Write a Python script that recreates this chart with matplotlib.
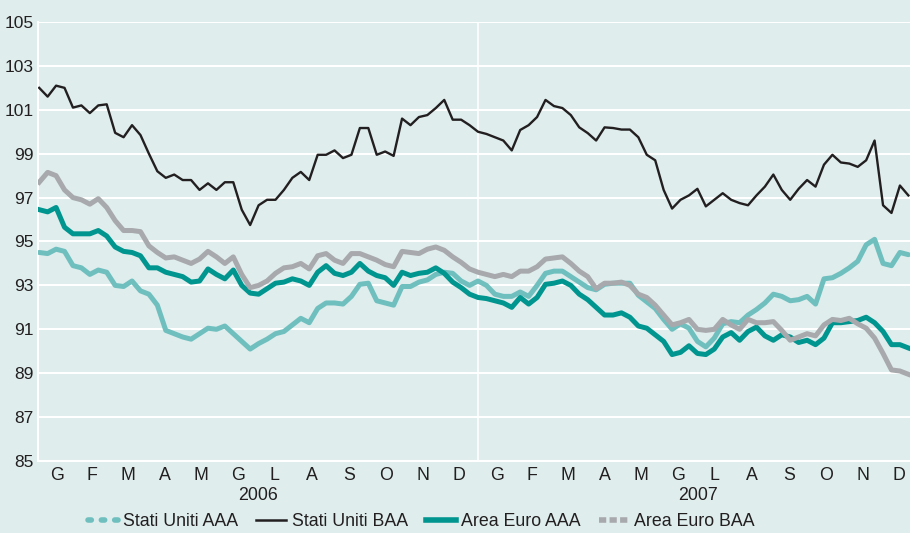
import matplotlib
matplotlib.use('Agg')
import matplotlib.pyplot as plt
import matplotlib.dates as mdates
from matplotlib.lines import Line2D
import pandas as pd
import numpy as np

# ---------------- data (weekly readings) ----------------
start_date = '2006-01-02'
n_weeks = 104

us_aaa = [94.5, 94.45, 94.65, 94.55, 93.9, 93.8, 93.5, 93.7, 93.6, 93.0,
          92.95, 93.2, 92.75, 92.6, 92.1, 90.95, 90.8, 90.65, 90.55, 90.8,
          91.05, 91.0, 91.15, 90.8, 90.45, 90.1, 90.35, 90.55, 90.8, 90.9,
          91.2, 91.5, 91.3, 91.95, 92.2, 92.2, 92.15, 92.5, 93.05, 93.1,
          92.3, 92.2, 92.1, 92.95, 92.95, 93.15, 93.25, 93.5, 93.6, 93.55,
          93.2, 93.0, 93.2, 93.0, 92.6, 92.5, 92.5, 92.7, 92.5, 93.0,
          93.55, 93.65, 93.65, 93.4, 93.15, 92.9, 92.8, 93.05, 93.1, 93.1,
          93.1, 92.55, 92.25, 91.95, 91.45, 91.0, 91.25, 91.05, 90.45, 90.2,
          90.6, 91.25, 91.35, 91.3, 91.65, 91.9, 92.2, 92.6, 92.5, 92.3,
          92.35, 92.5, 92.15, 93.3, 93.35, 93.55, 93.8, 94.1, 94.85, 95.1,
          94.0, 93.9, 94.5, 94.4]

us_baa = [102.0, 101.6, 102.1, 102.0, 101.1, 101.2, 100.85, 101.2, 101.25, 99.95,
          99.75, 100.3, 99.85, 99.0, 98.2, 97.9, 98.05, 97.8, 97.8, 97.35,
          97.65, 97.35, 97.7, 97.7, 96.45, 95.75, 96.65, 96.9, 96.9, 97.35,
          97.9, 98.17, 97.8, 98.95, 98.95, 99.15, 98.8, 98.95, 100.17, 100.17,
          98.95, 99.1, 98.9, 100.6, 100.3, 100.67, 100.76, 101.08, 101.45, 100.55,
          100.55, 100.3, 100.0, 99.9, 99.75, 99.6, 99.15, 100.08, 100.3, 100.67,
          101.45, 101.17, 101.08, 100.76, 100.2, 99.94, 99.6, 100.2, 100.17, 100.1,
          100.1, 99.75, 98.95, 98.7, 97.35, 96.5, 96.9, 97.1, 97.4, 96.6,
          96.9, 97.2, 96.9, 96.75, 96.65, 97.1, 97.5, 98.05, 97.35, 96.9,
          97.4, 97.8, 97.5, 98.5, 98.95, 98.6, 98.55, 98.4, 98.7, 99.6,
          96.65, 96.3, 97.55, 97.1]

eu_aaa = [96.45, 96.35, 96.55, 95.65, 95.35, 95.35, 95.35, 95.5, 95.25, 94.75,
          94.55, 94.5, 94.35, 93.8, 93.8, 93.6, 93.5, 93.4, 93.15, 93.2,
          93.75, 93.5, 93.3, 93.7, 93.0, 92.65, 92.6, 92.85, 93.1, 93.15,
          93.3, 93.2, 93.0, 93.6, 93.9, 93.55, 93.45, 93.6, 94.0, 93.65,
          93.45, 93.35, 93.0, 93.6, 93.45, 93.55, 93.6, 93.8, 93.55, 93.15,
          92.9, 92.6, 92.45, 92.4, 92.3, 92.2, 92.0, 92.45, 92.15, 92.45,
          93.05, 93.1, 93.2, 93.0, 92.6, 92.35, 92.0, 91.65, 91.65, 91.75,
          91.55, 91.15, 91.05, 90.75, 90.45, 89.85, 89.95, 90.25, 89.9, 89.85,
          90.1, 90.65, 90.85, 90.5, 90.9, 91.1, 90.7, 90.5, 90.75, 90.65,
          90.4, 90.5, 90.3, 90.6, 91.3, 91.3, 91.35, 91.4, 91.55, 91.3,
          90.9, 90.3, 90.3, 90.15]

eu_baa = [97.7, 98.15, 98.0, 97.35, 97.0, 96.9, 96.7, 96.95, 96.55, 95.95,
          95.5, 95.5, 95.45, 94.8, 94.5, 94.25, 94.3, 94.15, 94.0, 94.2,
          94.55, 94.3, 94.0, 94.3, 93.5, 92.9, 93.0, 93.2, 93.55, 93.8,
          93.85, 94.0, 93.75, 94.35, 94.45, 94.15, 94.0, 94.45, 94.45, 94.3,
          94.15, 93.95, 93.85, 94.55, 94.5, 94.45, 94.65, 94.75, 94.6, 94.3,
          94.05, 93.75, 93.6, 93.5, 93.4, 93.5, 93.4, 93.65, 93.65, 93.85,
          94.2, 94.25, 94.3, 94.0, 93.65, 93.4, 92.85, 93.1, 93.1, 93.15,
          93.0, 92.6, 92.45, 92.1, 91.65, 91.2, 91.3, 91.45, 91.0, 90.95,
          91.0, 91.45, 91.2, 91.0, 91.45, 91.3, 91.3, 91.35, 90.95, 90.5,
          90.65, 90.8, 90.7, 91.2, 91.45, 91.4, 91.5, 91.25, 91.05, 90.6,
          89.9, 89.15, 89.1, 88.95]

month_labels = ['G', 'F', 'M', 'A', 'M', 'G', 'L', 'A', 'S', 'O', 'N', 'D']
year_labels = ['2006', '2007']
y_ticks = [85, 87, 89, 91, 93, 95, 97, 99, 101, 103, 105]
series_names = ['Stati Uniti AAA', 'Stati Uniti BAA', 'Area Euro AAA', 'Area Euro BAA']

# ---------------- style ----------------
BG = '#dfeded'
C_US_AAA = '#6fbfbf'
C_US_BAA = '#231f20'
C_EU_AAA = '#00958f'
C_EU_BAA = '#a8a9ac'
TXT = '#231f20'

plt.rcParams['font.family'] = ['Liberation Sans', 'DejaVu Sans']

W, H = 910, 533
fig = plt.figure(figsize=(W / 100, H / 100), dpi=100, facecolor=BG)
ax = fig.add_axes([38 / W, 1 - 461 / H, (910 - 38) / W, (461 - 22) / H])
ax.set_facecolor(BG)

dates = pd.date_range(start_date, periods=n_weeks, freq='7D')
x = mdates.date2num(dates)

ax.plot(x, us_aaa, color=C_US_AAA, lw=3.6, solid_capstyle='round', zorder=3)
ax.plot(x, eu_aaa, color=C_EU_AAA, lw=3.6, zorder=4)
ax.plot(x, eu_baa, color=C_EU_BAA, lw=3.6, zorder=5)
ax.plot(x, us_baa, color=C_US_BAA, lw=1.7, zorder=6)

x0 = mdates.date2num(pd.Timestamp('2006-01-01'))
px_per_day = 880 / 730.0
ax.set_xlim(x0, x0 + (910 - 38) / px_per_day)
ax.set_ylim(85, 105)

# grid
ax.set_yticks(y_ticks)
ax.yaxis.grid(True, color='white', lw=1.5, zorder=1)
ax.set_axisbelow(True)
ax.tick_params(axis='y', length=0, pad=3, labelsize=12.5, labelcolor=TXT)

# month labels at mid-month
mids = []
labs = []
for yr in (2006, 2007):
    for m in range(1, 13):
        s = pd.Timestamp(year=yr, month=m, day=1)
        e = s + pd.offsets.MonthBegin(1)
        mids.append(mdates.date2num(s) + (mdates.date2num(e) - mdates.date2num(s)) / 2)
        labs.append(month_labels[m - 1])
ax.set_xticks(mids)
ax.set_xticklabels(labs)
ax.tick_params(axis='x', length=0, pad=4, labelsize=12.8, labelcolor=TXT)

for i, yl in enumerate(year_labels):
    yr = 2006 + i
    c = (mdates.date2num(pd.Timestamp(year=yr, month=1, day=1)) +
         mdates.date2num(pd.Timestamp(year=yr + 1, month=1, day=1))) / 2
    ax.annotate(yl, xy=(c, 0), xycoords=('data', 'axes fraction'),
                xytext=(0, -35), textcoords='offset pixels',
                ha='center', va='center', fontsize=12.8, color=TXT)

# year separator
ax.axvline(mdates.date2num(pd.Timestamp('2007-01-01')), color='white', lw=1.2, zorder=2)

for s in ['top', 'right']:
    ax.spines[s].set_visible(False)
for s in ['left', 'bottom']:
    ax.spines[s].set_color('white')
    ax.spines[s].set_linewidth(1.5)

# legend
handles = [
    Line2D([], [], color=C_US_AAA, lw=4.0, linestyle=(0, (0.6, 1.8)), dash_capstyle='round'),
    Line2D([], [], color=C_US_BAA, lw=1.8),
    Line2D([], [], color=C_EU_AAA, lw=4.0),
    Line2D([], [], color=C_EU_BAA, lw=4.0, linestyle=(0, (1.3, 0.6)), dash_capstyle='butt'),
]
leg = fig.legend(handles, series_names, loc='center', bbox_to_anchor=(0.463, 1 - 522 / H),
                 ncol=4, frameon=False, fontsize=12.8, handlelength=1.7,
                 handletextpad=0.3, columnspacing=1.0, labelcolor=TXT)

fig.savefig('out.png', dpi=100, facecolor=BG)
